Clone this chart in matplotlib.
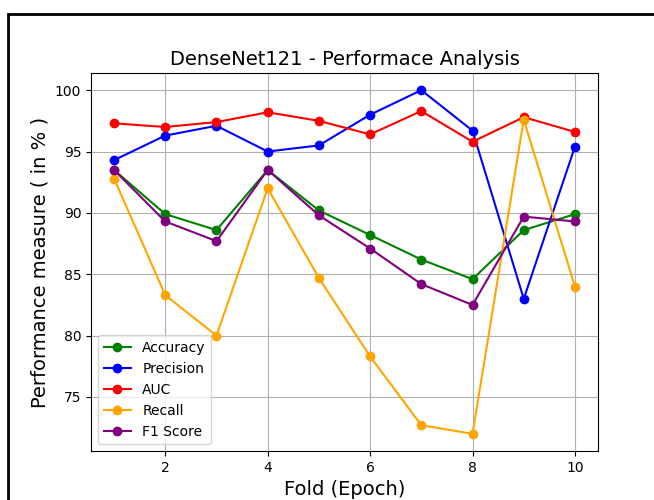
import matplotlib
matplotlib.use("Agg")
import matplotlib.pyplot as plt
from matplotlib.patches import Rectangle

folds = [1, 2, 3, 4, 5, 6, 7, 8, 9, 10]
accuracy = [93.5, 89.9, 88.6, 93.5, 90.2, 88.2, 86.2, 84.6, 88.6, 89.9]
precision = [94.3, 96.3, 97.1, 95.0, 95.5, 98.0, 100.0, 96.7, 83.0, 95.4]
auc = [97.3, 97.0, 97.4, 98.2, 97.5, 96.4, 98.3, 95.8, 97.8, 96.6]
recall = [92.8, 83.3, 80.0, 92.0, 84.7, 78.3, 72.7, 72.0, 97.6, 84.0]
f1_score = [93.5, 89.3, 87.7, 93.5, 89.8, 87.1, 84.2, 82.5, 89.7, 89.3]

fig = plt.figure(figsize=(6.54, 5.0), dpi=100)
ax = fig.add_axes([91 / 654, 1 - 451 / 500, 507 / 654, 378 / 500])

ax.plot(folds, accuracy, marker="o", color="green", label="Accuracy")
ax.plot(folds, precision, marker="o", color="blue", label="Precision")
ax.plot(folds, auc, marker="o", color="red", label="AUC")
ax.plot(folds, recall, marker="o", color="orange", label="Recall")
ax.plot(folds, f1_score, marker="o", color="purple", label="F1 Score")

ax.set_title("DenseNet121 - Performace Analysis", fontsize=14)
ax.set_xlabel("Fold (Epoch)", fontsize=14)
ax.set_ylabel("Performance measure ( in % )", fontsize=14)
ax.grid(True)
ax.legend(loc="lower left")

# frame of the original (larger) figure, cropped at right and bottom
fig.patches.append(Rectangle((7.5 / 654, -0.1), 1.2, 1 - 13.5 / 500 + 0.1,
                             transform=fig.transFigure, fill=False,
                             edgecolor="black", linewidth=2, clip_on=False))

plt.savefig("out.png", dpi=100)
